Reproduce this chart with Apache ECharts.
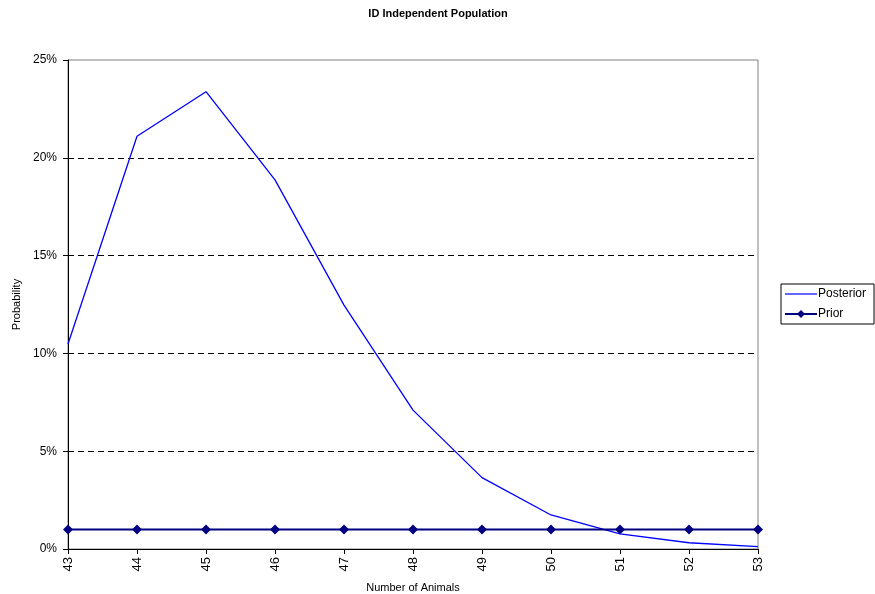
<!DOCTYPE html>
<html><head><meta charset="utf-8">
<script src="https://cdn.jsdelivr.net/npm/echarts@6/dist/echarts.min.js"></script>
<style>html,body{margin:0;padding:0;background:#fff}#c{width:875px;height:594px}</style>
</head><body><div id="c"></div>
<script>
var categories = ['43','44','45','46','47','48','49','50','51','52','53'];
var posterior = [10.48, 21.1, 23.38, 18.87, 12.47, 7.1, 3.65, 1.74, 0.77, 0.32, 0.12];
var prior = [1, 1, 1, 1, 1, 1, 1, 1, 1, 1, 1];
var yTicks = [0, 5, 10, 15, 20, 25];

var chart = echarts.init(document.getElementById('c'));
var font = 'Liberation Sans, Arial, sans-serif';
var lineIcon = 'path://M0,0L0,0M0,4.4L32,4.4L32,5.6L0,5.6ZM32,10L32,10';
var diamondIcon = 'path://M0,0L0,0M0,4L32,4L32,6L0,6ZM16,1L20,5L16,9L12,5ZM32,10L32,10';
chart.setOption({
  animation: false,
  title: { text: 'ID Independent Population', left: 433, textAlign: 'center', top: 3,
    textStyle: { fontFamily: font, fontSize: 11, fontWeight: 'bold', color: '#000' } },
  grid: { left: 68, right: 117, top: 60, bottom: 45, show: true, borderColor: '#808080', borderWidth: 1,
    containLabel: false, outerBoundsMode: 'none' },
  legend: {
    orient: 'vertical', left: 781, top: 284,
    data: [{ name: 'Posterior', icon: lineIcon }, { name: 'Prior', icon: diamondIcon }],
    itemWidth: 32, itemHeight: 10, itemGap: 8,
    padding: [4, 8, 4, 4],
    borderColor: '#000', borderWidth: 1,
    textStyle: { fontFamily: font, fontSize: 12, color: '#000', padding: [0, 0, 0, -4] }
  },
  xAxis: {
    type: 'category', data: categories, boundaryGap: false,
    name: 'Number of Animals', nameLocation: 'middle', nameGap: 33,
    nameTextStyle: { fontFamily: font, fontSize: 11, color: '#000' },
    axisLine: { lineStyle: { color: '#000', width: 1 } },
    axisTick: { show: true, alignWithLabel: true, length: 5, lineStyle: { color: '#000' } },
    axisLabel: { rotate: 90, fontFamily: font, fontSize: 13, color: '#000', margin: 8, interval: 0 },
    splitLine: { show: false }
  },
  yAxis: {
    type: 'value', min: 0, max: 25, interval: 5,
    name: 'Probability', nameLocation: 'middle', nameGap: 46,
    nameTextStyle: { fontFamily: font, fontSize: 11, color: '#000' },
    axisLine: { show: true, lineStyle: { color: '#000', width: 1 } },
    axisTick: { show: true, length: 5, lineStyle: { color: '#000' } },
    axisLabel: { fontFamily: font, fontSize: 12, color: '#000', margin: 11,
      formatter: function (v) { return yTicks.indexOf(v) >= 0 ? v + '%' : ''; } },
    splitLine: { show: true, showMinLine: false, showMaxLine: false,
      lineStyle: { color: '#000', type: [6, 4], width: 1 } }
  },
  series: [
    { name: 'Posterior', type: 'line', data: posterior, symbol: 'none',
      lineStyle: { color: '#0000FF', width: 1.3 }, itemStyle: { color: '#0000FF' } },
    { name: 'Prior', type: 'line', data: prior, symbol: 'diamond', symbolSize: 10,
      lineStyle: { color: '#000080', width: 2 }, itemStyle: { color: '#000080' } }
  ]
});
</script></body></html>
